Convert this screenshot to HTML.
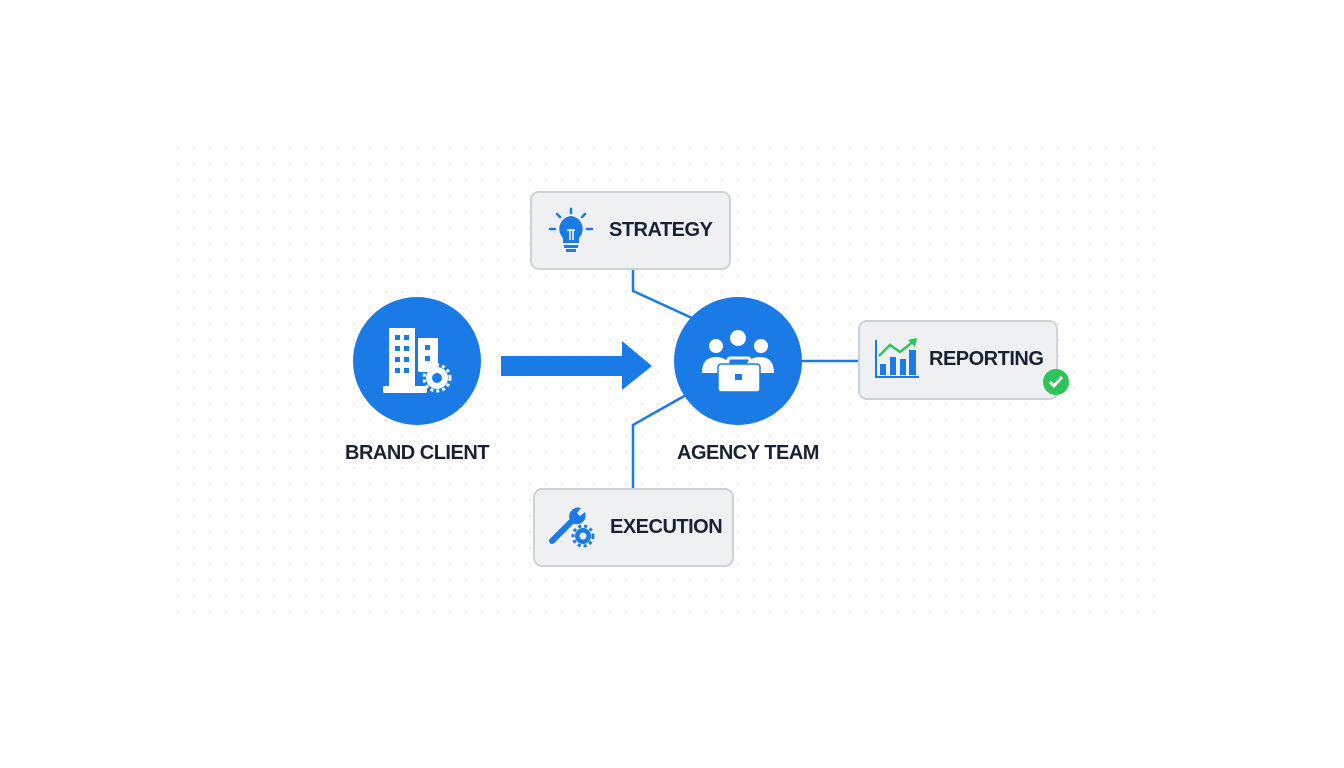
<!DOCTYPE html>
<html><head><style>
body{margin:0;width:1344px;height:768px;background:#fff;overflow:hidden;font-family:"Liberation Sans",sans-serif;}
.dots{position:absolute;left:170px;top:140px;width:990px;height:480px;background-image:radial-gradient(circle,#e6e8ec 1px,transparent 1.3px);background-size:16px 16px;}
.box{position:absolute;background:#eef0f2;border:2px solid #cfd2d6;border-radius:9px;box-sizing:border-box;}
.t{position:absolute;font-weight:bold;color:#182233;font-size:20px;white-space:nowrap;letter-spacing:-0.5px;}
</style></head><body>
<div class="dots"></div>
<svg width="1344" height="768" style="position:absolute;left:0;top:0">
<g stroke="#1a7be6" stroke-width="2.5" fill="none">
<polyline points="633,268 633,291 692,318"/>
<polyline points="633,489 633,425 686,395"/>
<line x1="800" y1="361" x2="860" y2="361"/>
</g>
<rect x="501" y="356" width="122" height="20" fill="#1a7be6"/>
<polygon points="622,341 652,366 622,390" fill="#1a7be6"/>
<circle cx="417" cy="361" r="64" fill="#1a7be6"/>
<circle cx="738" cy="361" r="64" fill="#1a7be6"/>
<g fill="#fff">
<rect x="389" y="328" width="26" height="58"/>
<rect x="418" y="338" width="20" height="34"/>
<rect x="383" y="386" width="44" height="7"/>
<circle cx="437" cy="378" r="11"/>
</g>
<g fill="#1a7be6">
<rect x="395" y="335" width="5" height="5"/><rect x="404" y="335" width="5" height="5"/>
<rect x="395" y="346" width="5" height="5"/><rect x="404" y="346" width="5" height="5"/>
<rect x="395" y="357" width="5" height="5"/><rect x="404" y="357" width="5" height="5"/>
<rect x="395" y="368" width="5" height="5"/><rect x="404" y="368" width="5" height="5"/>
<rect x="425" y="345" width="5" height="5"/><rect x="425" y="356" width="5" height="5"/>
<circle cx="437" cy="378" r="5"/>
</g>
<circle cx="437" cy="378" r="13" fill="none" stroke="#fff" stroke-width="3" stroke-dasharray="3 3"/>
<g fill="#fff">
<circle cx="738" cy="338" r="8"/><circle cx="716" cy="346" r="7"/><circle cx="761" cy="346" r="7"/>
<path d="M702 373 q0-16 14-16 q10 0 14 8 h-6 v8z"/>
<path d="M774 373 q0-16 -14-16 q-10 0-14 8 h6 v8z"/>
<rect x="718" y="364" width="42" height="28" rx="3"/>
</g>
<rect x="728" y="358" width="22" height="8" rx="2" fill="none" stroke="#fff" stroke-width="3"/>
<rect x="718" y="364" width="42" height="28" rx="3" fill="#fff" stroke="#1a7be6" stroke-width="1.5"/>
<rect x="735" y="374" width="7" height="6" fill="#1a7be6"/>
</svg>
<div class="box" style="left:530px;top:191px;width:201px;height:79px"></div>
<div class="box" style="left:858px;top:320px;width:200px;height:80px"></div>
<div class="box" style="left:533px;top:488px;width:201px;height:79px"></div>
<svg width="1344" height="768" style="position:absolute;left:0;top:0">
<g stroke="#1a7be6" stroke-width="2.5" stroke-linecap="round">
<line x1="550" y1="229" x2="555" y2="229"/><line x1="587" y1="229" x2="592" y2="229"/>
<line x1="571" y1="209" x2="571" y2="213"/><line x1="557" y1="214" x2="560" y2="217"/><line x1="585" y1="214" x2="582" y2="217"/>
</g>
<path d="M571 216 a13 13 0 0 1 8 22 v5 h-16 v-5 a13 13 0 0 1 8 -22z" fill="#1a7be6"/>
<rect x="564" y="245" width="14" height="3" fill="#1a7be6"/><rect x="566" y="249" width="10" height="3" fill="#1a7be6"/>
<path d="M567 230 h8 M570 230 v10 M573 230 v10" stroke="#fff" stroke-width="1.5"/>
<polyline points="876,340 876,377 919,377" fill="none" stroke="#1a7be6" stroke-width="2"/>
<rect x="880" y="364" width="6" height="11" fill="#1a7be6"/><rect x="890" y="357" width="6" height="18" fill="#1a7be6"/>
<rect x="900" y="359" width="6" height="16" fill="#1a7be6"/><rect x="909" y="350" width="7" height="25" fill="#1a7be6"/>
<polyline points="879,356 890,345 900,352 914,341" fill="none" stroke="#2ec45a" stroke-width="2.5"/>
<polygon points="917,338 908,340 915,347" fill="#2ec45a"/>
<circle cx="1056" cy="382" r="13" fill="#2ec45a"/>
<polyline points="1050,382 1054,386 1062,377" fill="none" stroke="#fff" stroke-width="3"/>
<line x1="552" y1="541" x2="574" y2="519" stroke="#1a7be6" stroke-width="6" stroke-linecap="round"/>
<path d="M571 522 a9 9 0 0 1 10-14 l-4 5 3 3 5-4 a9 9 0 0 1 -13 11z" fill="#1a7be6"/>
<circle cx="583" cy="536" r="8" fill="#1a7be6"/>
<circle cx="583" cy="536" r="10" fill="none" stroke="#1a7be6" stroke-width="3" stroke-dasharray="3 3"/>
<circle cx="583" cy="536" r="3.5" fill="#eef0f2"/>
</svg>
<div class="t" style="left:609px;top:219px">STRATEGY</div>
<div class="t" style="left:929px;top:348px">REPORTING</div>
<div class="t" style="left:610px;top:516px">EXECUTION</div>
<div class="t" style="left:345px;top:442px">BRAND CLIENT</div>
<div class="t" style="left:677px;top:442px">AGENCY TEAM</div>
</body></html>
